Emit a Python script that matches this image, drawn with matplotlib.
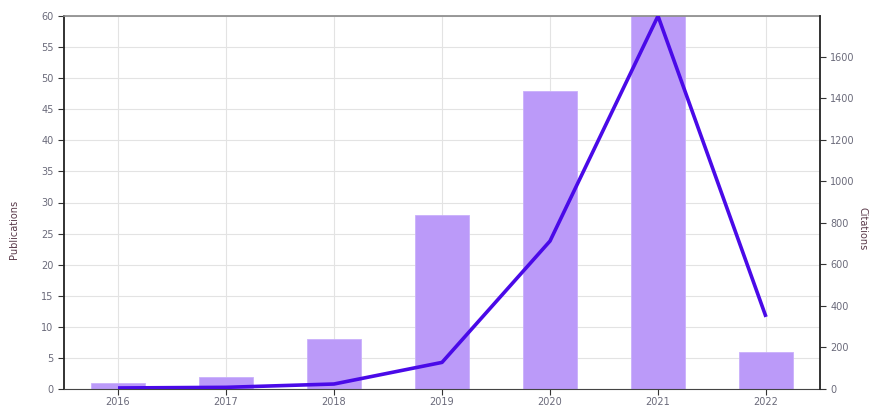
import matplotlib
matplotlib.use("Agg")
import matplotlib.pyplot as plt
import numpy as np

years = ["2016", "2017", "2018", "2019", "2020", "2021", "2022"]
publications = [1, 2, 8, 28, 48, 60, 6]
citations = [5, 8, 24, 128, 712, 1795, 347]

W, H = 869, 405
fig = plt.figure(figsize=(W / 100, H / 100), dpi=100)
left, right, top, bottom = 64, 820, 16, 389
ax = fig.add_axes([left / W, (H - bottom) / H, (right - left) / W, (bottom - top) / H])
x = np.arange(len(years))

ax.bar(x, publications, width=0.5, color="#bb9af9", edgecolor="#c9b0fb", linewidth=0.6, zorder=2)
ax.set_xlim(-0.5, len(years) - 0.5)
ax.set_ylim(0, 60)
ax.set_yticks(np.arange(0, 61, 5))
ax.set_xticks(x)
ax.set_xticklabels(years)
ax.grid(True, color="#e3e3e3", linewidth=0.8, zorder=0)
ax.set_axisbelow(True)
ax.spines["left"].set_color("#222222")
ax.spines["left"].set_linewidth(1.3)
ax.spines["bottom"].set_color("#444444")
ax.spines["top"].set_color("#888888")
ax.spines["top"].set_linewidth(1.2)
ax.spines["right"].set_visible(False)
ax.tick_params(axis="both", labelsize=7, colors="#333333", labelcolor="#6a6a7a", length=4)
ax.tick_params(axis="x", pad=1.5)

ax2 = ax.twinx()
ax2.plot(x, citations, color="#4a0ae8", linewidth=2.6, zorder=3, solid_capstyle="butt")
ax2.set_ylim(0, 1795)
ax2.set_yticks(np.arange(0, 1601, 200))
ax2.spines["right"].set_color("#222222")
ax2.spines["right"].set_linewidth(1.3)
for s in ["left", "top", "bottom"]:
    ax2.spines[s].set_visible(False)
ax2.tick_params(axis="y", labelsize=7, colors="#333333", labelcolor="#6a6a7a", length=4)

fig.text(14 / W, 1 - 229 / H, "Publications", fontsize=7, color="#5a3a4a",
         rotation=90, ha="center", va="center")
fig.text(863 / W, 1 - 229 / H, "Citations", fontsize=7, color="#5a3a4a",
         rotation=270, ha="center", va="center")

fig.savefig("out.png", dpi=100)
